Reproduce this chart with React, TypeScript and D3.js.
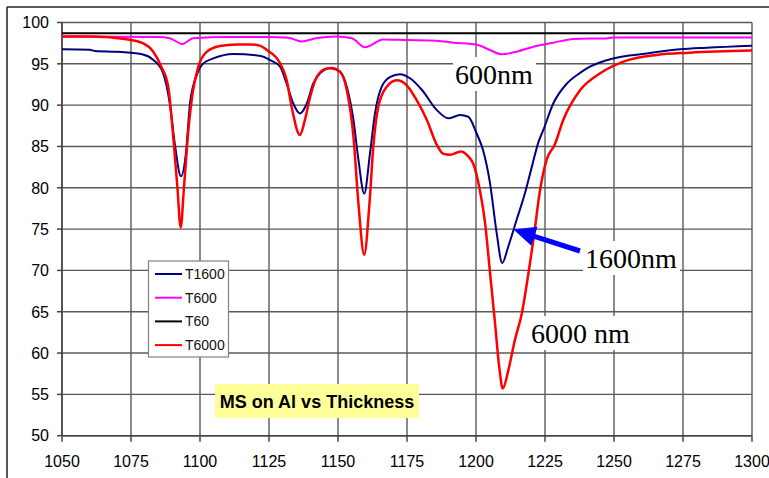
import React from "react";
import * as d3 from "d3";

const xTicks = [1050, 1075, 1100, 1125, 1150, 1175, 1200, 1225, 1250, 1275, 1300];
const yTicks = [50, 55, 60, 65, 70, 75, 80, 85, 90, 95, 100];

const t1600: [number, number][] = [
  [1050, 96.75], [1060, 96.7], [1062, 96.55], [1070, 96.45], [1079, 96.15], [1083, 95.5], [1086.6, 93.9],
  [1089, 90.3], [1091, 85], [1093.1, 81.4], [1094.9, 84.2], [1096.4, 90.3], [1098.8, 93.6],
  [1101.2, 95.05], [1104.8, 95.65], [1112, 96.2], [1122, 95.95], [1125.4, 95.45], [1129, 94.65],
  [1131.4, 92.6], [1133.8, 90.2], [1136.2, 89.0], [1138.7, 90.2], [1141, 92.6], [1143.5, 93.85],
  [1147.1, 94.45], [1150.7, 94.05], [1153.2, 92.2], [1155.6, 88.2], [1157.4, 83.4], [1159.5, 79.3],
  [1161.6, 84.2], [1163.4, 89.0], [1165.8, 92.2], [1168.8, 93.4], [1172.5, 93.75], [1176.1, 93.25],
  [1180.5, 91.8], [1185.8, 89.4], [1190, 88.4], [1194.2, 88.8], [1197.2, 88.6], [1200.2, 86.6],
  [1202.6, 84.5], [1205.1, 80.5], [1207.5, 74.5], [1209.5, 70.9], [1211.7, 72.9], [1214.7, 76.1],
  [1217.7, 79.3], [1220.2, 82.5], [1222.6, 85.5], [1224.4, 87.0], [1228, 90.2], [1232.9, 92.6],
  [1237.7, 93.9], [1241.3, 94.65], [1249.7, 95.65], [1261.8, 96.25], [1273.9, 96.75],
  [1283.6, 96.95], [1300, 97.2],
];

const t600: [number, number][] = [
  [1050, 98.3], [1085, 98.25], [1089, 98.1], [1093.7, 97.4], [1097.5, 98.1], [1110, 98.25],
  [1125, 98.25], [1132, 98.15], [1136.9, 97.7], [1142, 98.1], [1149.6, 98.3], [1155, 98.1],
  [1159.8, 97.0], [1166.4, 97.95], [1174.9, 97.88], [1185.8, 97.8], [1191.8, 97.56],
  [1200.3, 97.3], [1205.1, 96.67], [1209.3, 96.15], [1214.7, 96.47], [1220.8, 97.07],
  [1228, 97.56], [1235.3, 98.0], [1248, 98.1], [1250, 98.2], [1300, 98.2],
];

const t60: [number, number][] = [
  [1050, 98.7], [1300, 98.7],
];

const t6000: [number, number][] = [
  [1050, 98.3], [1061, 98.3], [1073.4, 97.97], [1079.3, 97.5], [1083, 96.5], [1086, 94.65],
  [1088.5, 92.2], [1090.3, 86.2], [1091.8, 80.1], [1093, 75.2], [1094.2, 80.1], [1095.8, 87.0],
  [1097.3, 91.4], [1099.4, 94.65], [1102.4, 96.45], [1107.2, 97.15], [1113.3, 97.35],
  [1118.1, 97.35], [1121.7, 97.2], [1124.2, 96.67], [1129, 95.06], [1131.4, 93.04], [1133.2, 89.8],
  [1136.2, 86.4], [1138, 88.2], [1139.9, 91.0], [1142.3, 93.4], [1145.9, 94.45], [1147.7, 94.5],
  [1150.7, 94.05], [1153.2, 91.8], [1155.6, 86.2], [1157.4, 78.1], [1159.5, 71.9], [1161.4, 78.1],
  [1162.8, 85], [1164.6, 89.8], [1167.6, 92.2], [1171.3, 93.0], [1174.9, 92.4], [1178.5, 90.6],
  [1182.2, 88.2], [1185.8, 85.2], [1188.2, 84.1], [1190.6, 84.0], [1194.5, 84.4], [1197.2, 83.8],
  [1199, 82.9], [1201.4, 79.7], [1203.3, 75.7], [1205.1, 69.65], [1206.9, 63.6], [1208.4, 58.35],
  [1209.7, 55.7], [1211.7, 57.9], [1214.1, 61.6], [1216.6, 64.8], [1219, 69.65], [1220.8, 73.7],
  [1223.2, 79.7], [1225.6, 83.4], [1228.5, 85.2], [1231.6, 88.2], [1237.7, 91.8], [1245, 93.85],
  [1253.4, 95.26], [1265.5, 96.07], [1277.5, 96.35], [1300, 96.6],
];

const seriesNames = ["T1600", "T600", "T60", "T6000"];
const seriesColors = ["#000080", "#ff00ff", "#000000", "#ff0000"];
const seriesData = [t1600, t600, t60, t6000];
const seriesWidths = [2, 2, 2, 2.5];

const W = 769;
const H = 478;
const left = 62;
const right = 752;
const top = 22.5;
const bottom = 435.7;

export default function App() {
  const x = d3.scaleLinear().domain([1050, 1300]).range([left, right]);
  const y = d3.scaleLinear().domain([50, 100]).range([bottom, top]);
  const line = d3
    .line<[number, number]>()
    .x((d) => x(d[0]))
    .y((d) => y(d[1]))
    .curve(d3.curveMonotoneX);

  const sans = "'Liberation Sans', Arial, sans-serif";
  const serif = "'Liberation Serif', 'Times New Roman', serif";
  const gridColor = "#5a5a5a";

  // arrow geometry
  const tip = [513.5, 229.5];
  const tail = [580, 251];
  const dx = tail[0] - tip[0];
  const dy = tail[1] - tip[1];
  const len = Math.sqrt(dx * dx + dy * dy);
  const ux = dx / len;
  const uy = dy / len;
  const headLen = 22;
  const headHalf = 10;
  const bx = tip[0] + ux * headLen;
  const by = tip[1] + uy * headLen;
  const p1 = [bx - uy * headHalf, by + ux * headHalf];
  const p2 = [bx + uy * headHalf, by - ux * headHalf];

  const annotations = [
    { text: "600nm", x: 455, y: 84, w: 80 },
    { text: "1600nm", x: 585, y: 268, w: 94 },
    { text: "6000 nm", x: 531, y: 343, w: 101 },
  ];

  return (
    <svg
      width={W}
      height={H}
      style={{ position: "absolute", left: 0, top: 0, background: "#fff" }}
    >
      <rect x={0} y={0} width={W} height={H} fill="#fff" />
      {/* chart frame */}
      <line x1={7} y1={7} x2={W} y2={7} stroke="#222" strokeWidth={1.5} />
      <line x1={7} y1={7} x2={7} y2={H} stroke="#222" strokeWidth={1.5} />

      {/* grid */}
      {yTicks.map((t) => (
        <line key={"gy" + t} x1={left} x2={right} y1={y(t)} y2={y(t)} stroke={gridColor} strokeWidth={1.4} />
      ))}
      {xTicks.map((t) => (
        <line key={"gx" + t} x1={x(t)} x2={x(t)} y1={top} y2={bottom} stroke={gridColor} strokeWidth={1.4} />
      ))}

      {/* axes */}
      <line x1={left} x2={left} y1={top} y2={bottom} stroke="#444" strokeWidth={1.5} />
      <line x1={left} x2={right} y1={bottom} y2={bottom} stroke="#444" strokeWidth={1.5} />
      {yTicks.map((t) => (
        <line key={"ty" + t} x1={left - 5} x2={left} y1={y(t)} y2={y(t)} stroke="#444" strokeWidth={1.5} />
      ))}
      {xTicks.map((t) => (
        <line key={"tx" + t} x1={x(t)} x2={x(t)} y1={bottom} y2={bottom + 6} stroke="#444" strokeWidth={1.5} />
      ))}
      {yTicks.map((t) => (
        <text key={"ly" + t} x={49} y={y(t)} dy="0.36em" textAnchor="end" fontFamily={sans} fontSize={16} fill="#000">
          {t}
        </text>
      ))}
      {xTicks.map((t) => (
        <text key={"lx" + t} x={x(t)} y={467} textAnchor="middle" fontFamily={sans} fontSize={16} fill="#000">
          {t}
        </text>
      ))}

      {/* series */}
      {seriesData.map((d, i) => (
        <path
          key={seriesNames[i]}
          d={line(d) || ""}
          fill="none"
          stroke={seriesColors[i]}
          strokeWidth={seriesWidths[i]}
          strokeLinejoin="round"
        />
      ))}

      {/* legend */}
      <rect x={148.5} y={261} width={80} height={96} fill="#fff" stroke="#808080" strokeWidth={1.2} />
      {seriesNames.map((n, i) => (
        <g key={"lg" + n}>
          <line x1={155} x2={182} y1={274 + i * 23.7} y2={274 + i * 23.7} stroke={seriesColors[i]} strokeWidth={2} />
          <text x={185} y={274 + i * 23.7} dy="0.36em" fontFamily={sans} fontSize={14} fill="#111">
            {n}
          </text>
        </g>
      ))}

      {/* title box */}
      <rect x={215} y={384} width={204} height={34} fill="#ffff99" />
      <text x={317} y={408} textAnchor="middle" fontFamily={sans} fontSize={18} fontWeight="bold" fill="#000">
        MS on Al vs Thickness
      </text>

      {/* annotations */}
      {annotations.map((a) => (
        <g key={a.text}>
          <rect x={a.x - 2} y={a.y - 27} width={a.w + 3} height={34} fill="#fff" />
          <text x={a.x} y={a.y} fontFamily={serif} fontSize={28} fill="#000">
            {a.text}
          </text>
        </g>
      ))}

      {/* arrow */}
      <line x1={tail[0]} y1={tail[1]} x2={bx} y2={by} stroke="#0000ff" strokeWidth={5} />
      <polygon points={`${tip[0]},${tip[1]} ${p1[0]},${p1[1]} ${p2[0]},${p2[1]}`} fill="#0000ff" />
    </svg>
  );
}
